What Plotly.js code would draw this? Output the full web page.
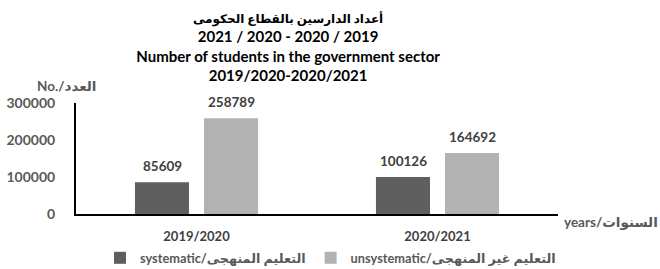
<!DOCTYPE html>
<html>
<head>
<meta charset="utf-8">
<script src="https://cdn.plot.ly/plotly-3.0.1.min.js"></script>
<style>html,body{margin:0;padding:0;background:#fff;}#chart{width:660px;height:269px;}</style>
</head>
<body>
<div id="chart"></div>
<script>
const categories = ['2019/2020', '2020/2021'];
const systematic = [85609, 100126];
const unsystematic = [258789, 164692];
const seriesNames = ['systematic/التعليم المنهجى', 'unsystematic/التعليم غير المنهجى'];
const yTicks = [0, 100000, 200000, 300000];

const FONT = 'Lato, "DejaVu Sans", sans-serif';
const colors = ['#5f5f5f', '#b3b3b3'];

const traces = [systematic, unsystematic].map((vals, i) => ({
  type: 'bar',
  x: categories,
  y: vals,
  name: seriesNames[i],
  marker: {color: colors[i], line: {width: 0}},
  hoverinfo: 'skip'
}));

const annotations = [];
[systematic, unsystematic].forEach((vals, i) => {
  vals.forEach((v, j) => {
    annotations.push({
      x: categories[j], y: v, xref: 'x', yref: 'y',
      text: String(v), showarrow: false,
      xshift: i === 0 ? -34.5 : 34.5, yanchor: 'bottom', yshift: 6,
      font: {family: FONT, size: 13.5, color: '#404040', weight: 'bold'}
    });
  });
});
annotations.push({
  xref: 'paper', yref: 'paper', x: -0.085, y: 1.153, xanchor: 'left', yanchor: 'middle',
  text: 'No./العدد', showarrow: false,
  font: {family: FONT, size: 13.5, color: '#595959', weight: 'bold'}
});
annotations.push({
  xref: 'paper', yref: 'paper', x: 1.008, y: -0.072, xanchor: 'left', yanchor: 'middle',
  text: 'years/السنوات', showarrow: false,
  font: {family: FONT, size: 13.5, color: '#595959', weight: 'bold'}
});

const layout = {
  width: 660, height: 269,
  margin: {l: 76, r: 102, t: 103, b: 55, pad: 0, autoexpand: false},
  paper_bgcolor: '#fff', plot_bgcolor: '#fff',
  font: {family: FONT, color: '#404040'},
  title: {
    text: '<span style="font-size:12px">أعداد الدارسين بالقطاع الحكومى</span><br>2021 / 2020 - 2020 / 2019<br>Number of students in the government sector<br>2019/2020-2020/2021',
    font: {family: FONT, size: 15, color: '#000', weight: 'bold'},
    xref: 'paper', x: 0.44, xanchor: 'center',
    yref: 'container', y: 0.916, yanchor: 'top'
  },
  barmode: 'group',
  bargap: 0.427,
  bargroupgap: 0.217,
  showlegend: true,
  legend: {
    orientation: 'h', x: 0.528, xanchor: 'center',
    yref: 'container', y: 0.041, yanchor: 'middle',
    font: {family: FONT, size: 12.8, color: '#595959', weight: 'bold'},
    itemwidth: 30, bgcolor: 'rgba(0,0,0,0)'
  },
  xaxis: {
    type: 'category',
    showline: true, linecolor: '#000', linewidth: 2,
    showgrid: false, zeroline: false, ticks: '',
    ticklabelstandoff: 9,
    tickfont: {family: FONT, size: 13, color: '#404040', weight: 'bold'},
    fixedrange: true
  },
  yaxis: {
    range: [0, 300000],
    tickvals: yTicks, ticktext: yTicks.map(String),
    showline: true, linecolor: '#000', linewidth: 2,
    showgrid: false, zeroline: false, ticks: '',
    ticklabelstandoff: 16,
    tickfont: {family: FONT, size: 14, color: '#595959', weight: 'bold'},
    fixedrange: true
  },
  annotations: annotations
};

Plotly.newPlot('chart', traces, layout, {displayModeBar: false, staticPlot: true});
</script>
</body>
</html>
